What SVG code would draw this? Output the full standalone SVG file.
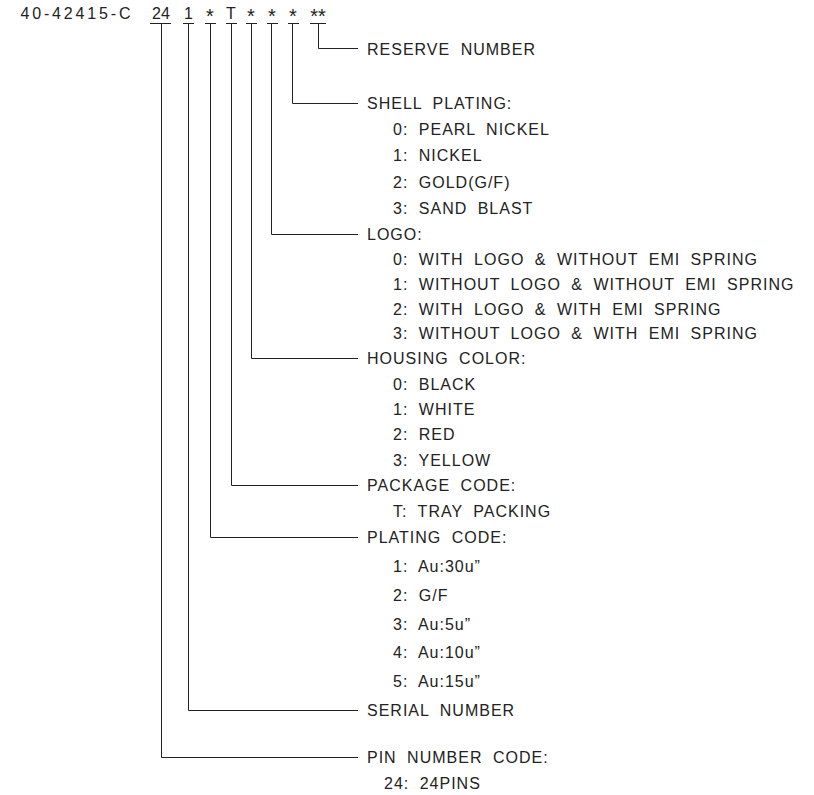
<svg xmlns="http://www.w3.org/2000/svg" width="814" height="795" viewBox="0 0 814 795">
<style>
text{font-family:"Liberation Sans",Arial,sans-serif;font-size:16px;fill:#222;letter-spacing:1px;word-spacing:5px}
.c{text-anchor:middle;letter-spacing:0}
.s{font-size:20px}
.ln{stroke:#222;stroke-width:1;fill:none}
</style>
<rect width="814" height="795" fill="#fff"/>
<g id="code">
<text x="20.5" y="19" textLength="111" lengthAdjust="spacing">40-42415-C</text>
<text class="c" x="161" y="19">24</text>
<text class="c" x="188.5" y="19">1</text>
<text class="c s" x="210" y="23">*</text>
<text class="c" x="231" y="19">T</text>
<text class="c s" x="251" y="23">*</text>
<text class="c s" x="272" y="23">*</text>
<text class="c s" x="293" y="23">*</text>
<text class="c s" x="318" y="23">**</text>
</g>
<g id="connectors" class="ln">
<path d="M150 23.5H171M183 23.5H194M205 23.5H216M226 23.5H237M246 23.5H257M267 23.5H278M288 23.5H299M310 23.5H326"/>
<path d="M318.5 23.5V48.5H358"/>
<path d="M292.5 23.5V103.5H358"/>
<path d="M271.5 23.5V234.5H358"/>
<path d="M251.5 23.5V358.5H358"/>
<path d="M231.5 23.5V485.5H358"/>
<path d="M210.5 23.5V537.5H358"/>
<path d="M188.5 23.5V710.5H358"/>
<path d="M161.5 23.5V757.5H358"/>
</g>
<g id="reserve-number"><text x="367" y="55">RESERVE NUMBER</text></g>
<g id="shell-plating">
<text x="367" y="109">SHELL PLATING:</text>
<text x="393" y="135">0: PEARL NICKEL</text>
<text x="393" y="161">1: NICKEL</text>
<text x="393" y="187.5">2: GOLD(G/F)</text>
<text x="393" y="214">3: SAND BLAST</text>
</g>
<g id="logo">
<text x="367" y="240">LOGO:</text>
<text x="393" y="265">0: WITH LOGO &amp; WITHOUT EMI SPRING</text>
<text x="393" y="290">1: WITHOUT LOGO &amp; WITHOUT EMI SPRING</text>
<text x="393" y="314.5">2: WITH LOGO &amp; WITH EMI SPRING</text>
<text x="393" y="339">3: WITHOUT LOGO &amp; WITH EMI SPRING</text>
</g>
<g id="housing-color">
<text x="367" y="364">HOUSING COLOR:</text>
<text x="393" y="389.5">0: BLACK</text>
<text x="393" y="415">1: WHITE</text>
<text x="393" y="440">2: RED</text>
<text x="393" y="465.5">3: YELLOW</text>
</g>
<g id="package-code">
<text x="367" y="491">PACKAGE CODE:</text>
<text x="393" y="517">T: TRAY PACKING</text>
</g>
<g id="plating-code">
<text x="367" y="543">PLATING CODE:</text>
<text x="393" y="572">1: Au:30u”</text>
<text x="393" y="601">2: G/F</text>
<text x="393" y="629.5">3: Au:5u”</text>
<text x="393" y="658">4: Au:10u”</text>
<text x="393" y="687">5: Au:15u”</text>
</g>
<g id="serial-number"><text x="367" y="716">SERIAL NUMBER</text></g>
<g id="pin-number-code">
<text x="367" y="763">PIN NUMBER CODE:</text>
<text x="384" y="789">24: 24PINS</text>
</g>
</svg>
